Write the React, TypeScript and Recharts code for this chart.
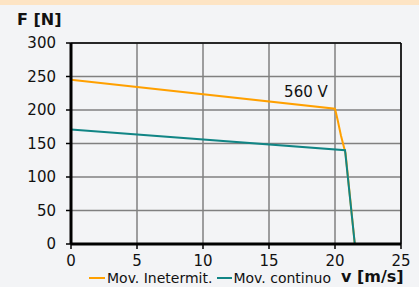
import React from 'react';
import { LineChart, Line, XAxis, YAxis, CartesianGrid, ReferenceLine, ReferenceDot } from 'recharts';

const intermitV = [0, 20, 20.2, 20.45, 20.8, 21.5];
const intermitF = [245, 202, 185, 162, 135, 0];
const continuoV = [0, 20.76, 21.5];
const continuoF = [171, 140, 0];
const xTicks = [0, 5, 10, 15, 20, 25];
const yTicks = [0, 50, 100, 150, 200, 250, 300];

const intermitData = intermitV.map((v, i) => ({ v, f: intermitF[i] }));
const continuoData = continuoV.map((v, i) => ({ v, f: continuoF[i] }));

const ORANGE = '#ffa000';
const TEAL = '#118585';
const FONT = 'Verdana, "DejaVu Sans", sans-serif';

const App: React.FC = () => {
  return (
    <div style={{ position: 'absolute', left: 0, top: 0, width: 419, height: 287, background: '#f3f4f6', overflow: 'hidden', fontFamily: FONT }}>
      <div style={{ position: 'absolute', left: 0, top: 0, width: 419, height: 5, background: '#fde4c4' }} />
      <div style={{ position: 'absolute', left: 17, top: 10, fontSize: 16, fontWeight: 'bold', color: '#111' }}>F [N]</div>
      <LineChart width={419} height={287} margin={{ top: 43, right: 18, bottom: 13, left: 11 }}>
        <CartesianGrid stroke="#808080" strokeWidth={1.5} />
        <XAxis
          type="number"
          dataKey="v"
          domain={[0, 25]}
          ticks={xTicks}
          height={30}
          axisLine={{ stroke: '#000', strokeWidth: 3 }}
          tickLine={{ stroke: '#000', strokeWidth: 1.5 }}
          tickSize={5}
          tickMargin={6}
          tick={{ fill: '#111', fontSize: 15, fontFamily: FONT }}
        />
        <YAxis
          type="number"
          dataKey="f"
          domain={[0, 300]}
          ticks={yTicks}
          width={60}
          axisLine={{ stroke: '#000', strokeWidth: 3 }}
          tickLine={{ stroke: '#000', strokeWidth: 1.5 }}
          tickSize={5}
          tickMargin={10}
          tick={{ fill: '#111', fontSize: 15, fontFamily: FONT }}
        />
        <ReferenceLine y={300} stroke="#000" strokeWidth={1.5} />
        <ReferenceLine x={25} stroke="#000" strokeWidth={1.5} />
        <Line data={intermitData} dataKey="f" type="linear" stroke={ORANGE} strokeWidth={2} dot={false} isAnimationActive={false} />
        <Line data={continuoData} dataKey="f" type="linear" stroke={TEAL} strokeWidth={2} dot={false} isAnimationActive={false} />
        <ReferenceDot x={17.8} y={228} r={0} fill="none" stroke="none" label={{ value: '560 V', position: 'center', fill: '#111', fontSize: 15, fontFamily: FONT }} />
      </LineChart>
      <div style={{ position: 'absolute', left: 89, top: 270, fontSize: 14, lineHeight: '16px', color: '#111', display: 'flex', alignItems: 'center', whiteSpace: 'nowrap' }}>
        <span style={{ display: 'inline-block', width: 16, height: 2, background: ORANGE, marginRight: 2 }} />
        <span>Mov. Inetermit.</span>
        <span style={{ display: 'inline-block', width: 15, height: 2, background: TEAL, marginLeft: 5, marginRight: 1 }} />
        <span>Mov. continuo</span>
      </div>
      <div style={{ position: 'absolute', left: 341, top: 268, fontSize: 16, lineHeight: '18px', fontWeight: 'bold', color: '#111' }}>v [m/s]</div>
    </div>
  );
};

export default App;
